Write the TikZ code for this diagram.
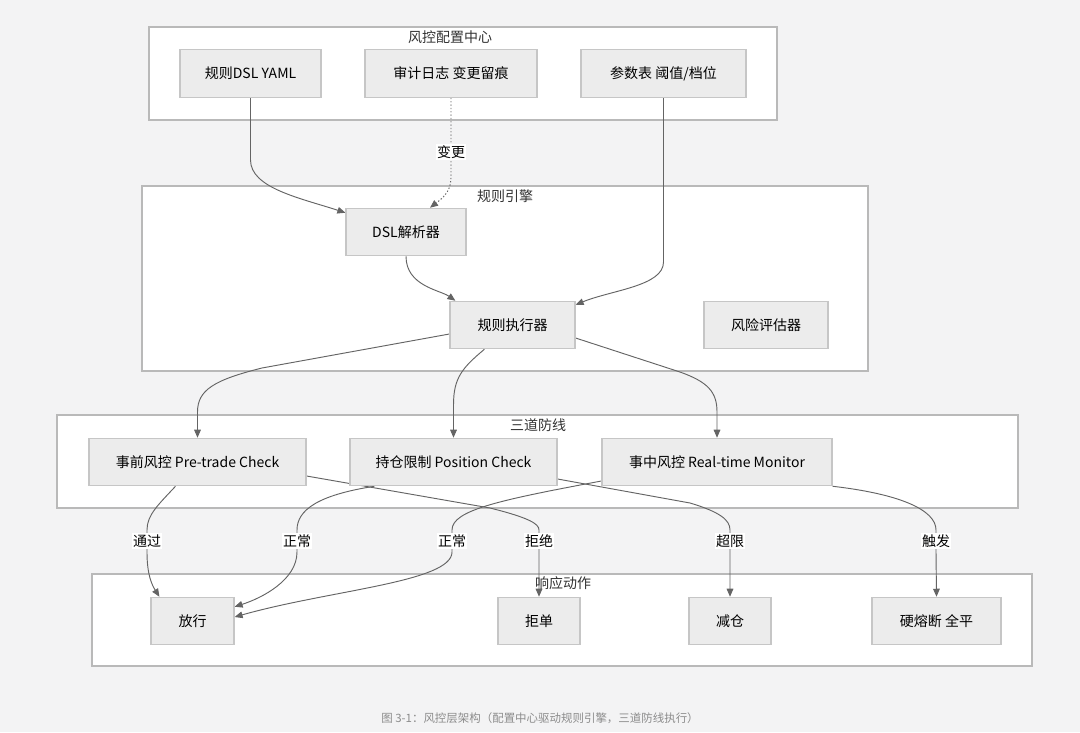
\documentclass[tikz,border=0pt]{standalone}
\usepackage{fontspec}
\setmainfont{Noto Sans CJK SC}
\usetikzlibrary{calc,arrows.meta}

\definecolor{pagebg}{RGB}{243,243,244}
\definecolor{groupline}{RGB}{185,185,185}
\definecolor{boxfill}{RGB}{236,236,236}
\definecolor{boxline}{RGB}{198,198,198}
\definecolor{edgeline}{RGB}{100,100,100}

\pgfdeclarelayer{back}
\pgfdeclarelayer{wires}
\pgfsetlayers{back,wires,main}

\begin{document}
\begin{tikzpicture}[
        x=0.75pt, y=-0.75pt,
        group/.style={draw=groupline, fill=white, line width=0.9pt},
        grouptitle/.style={font=\fontsize{10.5}{12}\selectfont, text=black!80},
        block/.style={draw=boxline, fill=boxfill, line width=0.9pt, minimum height=35.5pt, inner sep=0pt, font=\fontsize{10.5}{12}\selectfont},
        wd/.style={minimum width=#1*0.75pt},
        wire/.style={-{Triangle[length=6pt,width=5pt]}, draw=edgeline, line width=0.7pt},
        tag/.style={fill=white, inner sep=1pt, font=\fontsize{10.5}{12}\selectfont}
    ]

    \useasboundingbox (0,0) rectangle (1080,732);

    % groups
    \begin{pgfonlayer}{back}
    \fill[pagebg] (0,0) rectangle (1080,732);
    \draw[group] (149,27) rectangle (777,120);
    \draw[group] (142,186) rectangle (868,371);
    \draw[group] (57,415) rectangle (1018,508);
    \draw[group] (92,574) rectangle (1032,666);
    \end{pgfonlayer}

    \node[grouptitle] (cfgtitle) at (450,37) {风控配置中心};
    \node[grouptitle] (enginetitle) at (505,196) {规则引擎};
    \node[grouptitle] (linestitle) at (538,425) {三道防线};
    \node[grouptitle] (acttitle) at (563,583) {响应动作};

    % config center
    \node[block, wd=141] (dsl) at (250.5,73.5) {规则DSL YAML};
    \node[block, wd=172] (audit) at (451,73.5) {审计日志 变更留痕};
    \node[block, wd=165] (param) at (663.5,73.5) {参数表 阈值/档位};

    % rule engine
    \node[block, wd=120] (parser) at (406,232) {DSL解析器};
    \node[block, wd=125] (exec) at (512.5,325) {规则执行器};
    \node[block, wd=124] (risk) at (766,325) {风险评估器};

    % three lines
    \node[block, wd=217] (pre) at (197.5,462) {事前风控 Pre-trade Check};
    \node[block, wd=207] (pos) at (453.5,462) {持仓限制 Position Check};
    \node[block, wd=230] (mon) at (717,462) {事中风控 Real-time Monitor};

    % actions
    \node[block, wd=83] (pass) at (192.5,621) {放行};
    \node[block, wd=82] (reject) at (539,621) {拒单};
    \node[block, wd=82] (reduce) at (730,621) {减仓};
    \node[block, wd=129] (fuse) at (936.5,621) {硬熔断 全平};

    \begin{pgfonlayer}{wires}
    \draw[wire] (dsl.south) -- (250.5,160) .. controls (250.5,188) and (300,198) .. ($(parser.north west)+(0,5)$);
    \draw[wire, dash pattern=on 1pt off 1.5pt] (audit.south) -- node[tag, pos=0.68, solid] {变更} (451,178) .. controls (451,193) and (440,200) .. ($(parser.north)+(24,0)$);
    \draw[wire] (parser.south) .. controls (406,286) and (440,290) .. ($(exec.north west)+(6,0)$);
    \draw[wire] (param.south) -- (663.5,262) .. controls (663.5,286) and (612,290) .. ($(exec.north east)+(0,4)$);

    \draw[wire] ($(exec.west)+(0,9)$) -- (262,368) .. controls (214,380) and (197.5,390) .. (197.5,412) -- (pre.north);
    \draw[wire] ($(exec.south west)+(35,0)$) .. controls (462,368) and (453.5,378) .. (453.5,405) -- (pos.north);
    \draw[wire] ($(exec.east)+(0,13)$) -- (680,372) .. controls (708,382) and (717,392) .. (717,412) -- (mon.north);

    \draw[wire] ($(pre.south)+(-22,0)$) .. controls (158,505) and (147,515) .. (147,530) -- node[tag] {通过} (147,552) .. controls (147,575) and (152,585) .. ($(pass.north west)+(9,0)$);
    \draw[wire] ($(pre.east)+(0,14)$) -- (490,508) .. controls (530,518) and (539,524) .. (539,530) -- node[tag] {拒绝} (539,552) -- (reject.north);
    \draw[wire] ($(pos.south west)+(25,0)$) .. controls (318,495) and (297,510) .. (297,530) -- node[tag] {正常} (297,552) .. controls (297,580) and (262,598) .. ($(pass.north east)+(0,10)$);
    \draw[wire] ($(pos.east)+(0,17)$) -- (690,503) .. controls (720,512) and (730,520) .. (730,530) -- node[tag] {超限} (730,552) -- (reduce.north);
    \draw[wire] ($(mon.west)+(0,19)$) .. controls (500,500) and (452,510) .. (452,530) -- node[tag] {正常} (452,552) .. controls (452,582) and (330,590) .. ($(pass.east)+(0,-4)$);
    \draw[wire] (mon.south east) .. controls (900,494) and (936,510) .. (936,530) -- node[tag] {触发} (936,552) -- (fuse.north);
    \end{pgfonlayer}

    \node[font=\fontsize{8.6}{10}\selectfont, text=black!45] (caption) at (540,718) {图 3-1：风控层架构（配置中心驱动规则引擎，三道防线执行）};

\end{tikzpicture}
\end{document}
